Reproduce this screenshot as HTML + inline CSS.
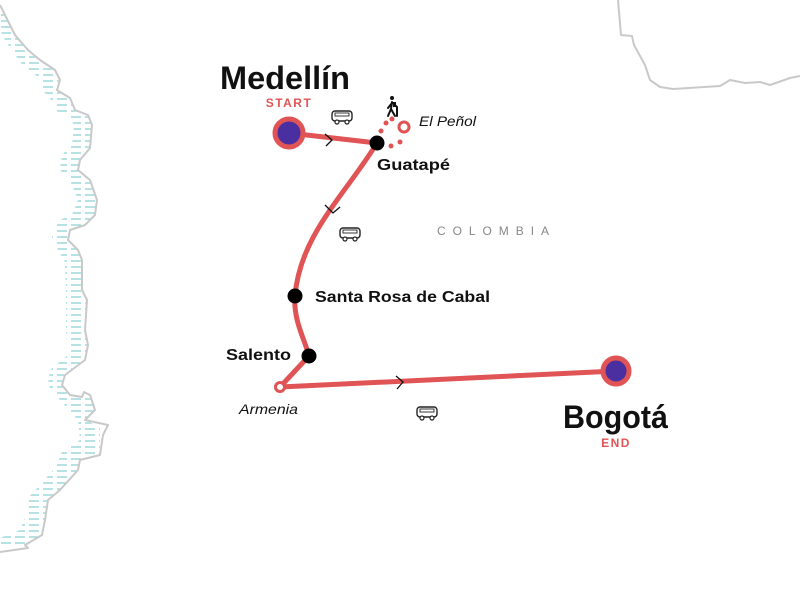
<!DOCTYPE html>
<html><head><meta charset="utf-8"><style>
html,body{margin:0;padding:0;background:#fff;}
svg{display:block;}
text{font-family:"Liberation Sans",sans-serif;}
</style></head><body>
<svg width="800" height="600" viewBox="0 0 800 600" xmlns="http://www.w3.org/2000/svg">
<defs>
<pattern id="hatch" width="14" height="6" patternUnits="userSpaceOnUse">
<line x1="1" y1="3" x2="11" y2="3" stroke="#8fd3d6" stroke-width="1.3"/>
</pattern>
<g id="bus">
<rect x="-10" y="-6" width="20" height="10" rx="3" fill="#fff" stroke="#222" stroke-width="1.4"/>
<rect x="-7" y="-4" width="14" height="3" fill="none" stroke="#222" stroke-width="0.9"/>
<circle cx="-5" cy="5" r="2" fill="#fff" stroke="#222" stroke-width="1.2"/>
<circle cx="5" cy="5" r="2" fill="#fff" stroke="#222" stroke-width="1.2"/>
</g>
</defs>
<polygon fill="url(#hatch)" points="0,5 15,35 28,50 40,60 55,70 60,80 57,90 70,98 75,110 88,115 92,125 90,148 80,160 78,170 90,180 97,200 95,215 85,225 70,230 68,240 78,250 82,260 82,290 87,300 85,330 88,345 85,360 65,375 62,385 70,395 82,398 90,398 95,410 85,420 100,427 100,455 80,460 78,470 60,490 48,500 45,520 42,535 25,545 0,548 0,538 20,530 25,518 28,498 40,485 55,468 62,452 80,440 78,420 60,400 48,385 50,370 68,355 66,330 66,300 65,262 58,250 52,238 55,222 72,215 78,200 70,180 60,170 62,155 72,145 74,125 70,118 55,110 50,98 40,88 40,78 25,68 15,55 5,40 0,30"/>
<polyline fill="none" stroke="#c9c9c9" stroke-width="2" stroke-linejoin="round" points="0,5 15,35 28,50 40,60 55,70 60,80 57,90 70,98 75,110 88,115 92,125 90,148 80,160 78,170 90,180 97,200 95,215 85,225 70,230 68,240 78,250 82,260 82,290 87,300 85,330 88,345 85,360 65,375 62,385 70,395 82,397 84,392 90,395 95,410 85,420 108,425 103,435 100,455 80,460 78,470 60,490 48,500 45,520 42,535 25,545 28,548 0,552"/>
<polyline fill="none" stroke="#c9c9c9" stroke-width="2" stroke-linejoin="round" points="618,0 621,35 632,36 634,45 645,65 650,80 660,87 673,89 720,86 730,80 745,83 760,82 770,85 790,78 800,76"/>
<g fill="none" stroke="#e05455" stroke-width="5" stroke-linecap="round" stroke-linejoin="round">
<path d="M289,133 L377,143"/>
<path d="M377,143 C345,195 300,235 295,296 C293,320 305,340 309,356 L280,387 L616,371"/>
</g>
<g fill="none" stroke="#111" stroke-width="1.3">
<path d="M325,134 L332,140 L326,146"/>
<path d="M325,205 L333,213 L340,207"/>
<path d="M396,376 L403,382 L397,389"/>
</g>
<g fill="#e05455">
<circle cx="381" cy="131" r="2.5"/><circle cx="386" cy="123" r="2.5"/><circle cx="392" cy="119" r="2.5"/>
<circle cx="391" cy="146" r="2.5"/><circle cx="400" cy="142" r="2.5"/>
</g>
<circle cx="404" cy="127" r="5" fill="#fff" stroke="#e05455" stroke-width="3"/>
<g stroke="#111" stroke-width="2" fill="none" stroke-linecap="round">
<circle cx="392" cy="98" r="2" fill="#111" stroke="none"/>
<path d="M392,102 L391,109 L388,116 M391,109 L395,116 M392,103 L388,108 M393,103 L397,107 L397,116"/>
<rect x="393" y="102" width="3" height="5" fill="#111" stroke="none"/>
</g>
<circle cx="289" cy="133" r="14" fill="#4a2fa0" stroke="#e05455" stroke-width="5"/>
<circle cx="616" cy="371" r="13" fill="#4a2fa0" stroke="#e05455" stroke-width="5"/>
<circle cx="377" cy="143" r="7.5" fill="#000"/>
<circle cx="295" cy="296" r="7.5" fill="#000"/>
<circle cx="309" cy="356" r="7.5" fill="#000"/>
<circle cx="280" cy="387" r="4.5" fill="#fff" stroke="#e05455" stroke-width="3"/>
<use href="#bus" x="342" y="117"/>
<use href="#bus" x="350" y="234"/>
<use href="#bus" x="427" y="413"/>
<text x="220" y="89" font-size="32" font-weight="bold" fill="#111" textLength="130" lengthAdjust="spacingAndGlyphs">Medellín</text>
<text x="289" y="107" font-size="12" font-weight="bold" text-anchor="middle" fill="#e05455" letter-spacing="1.5">START</text>
<text x="563" y="428" font-size="32" font-weight="bold" fill="#111" textLength="105" lengthAdjust="spacingAndGlyphs">Bogotá</text>
<text x="616" y="447" font-size="12" font-weight="bold" text-anchor="middle" fill="#e05455" letter-spacing="1.5">END</text>
<text x="377" y="170" font-size="16" font-weight="bold" fill="#111" textLength="73" lengthAdjust="spacingAndGlyphs">Guatapé</text>
<text x="419" y="126" font-size="14" font-style="italic" fill="#111" textLength="57" lengthAdjust="spacingAndGlyphs">El Peñol</text>
<text x="315" y="302" font-size="16" font-weight="bold" fill="#111" textLength="175" lengthAdjust="spacingAndGlyphs">Santa Rosa de Cabal</text>
<text x="226" y="360" font-size="16" font-weight="bold" fill="#111" textLength="65" lengthAdjust="spacingAndGlyphs">Salento</text>
<text x="239" y="414" font-size="14" font-style="italic" fill="#111" textLength="59" lengthAdjust="spacingAndGlyphs">Armenia</text>
<text x="437" y="235" font-size="12" fill="#888" textLength="112">COLOMBIA</text>
</svg>
</body></html>
